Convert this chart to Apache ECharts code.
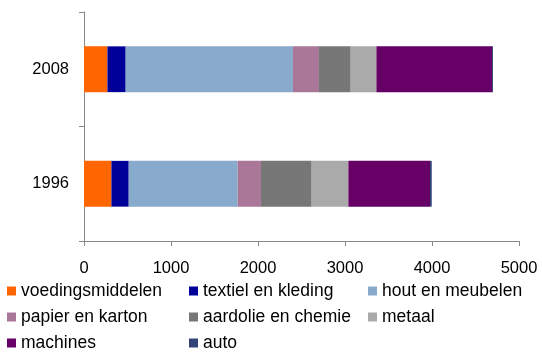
<!DOCTYPE html>
<html>
<head>
<meta charset="utf-8">
<script src="https://cdn.jsdelivr.net/npm/echarts@6/dist/echarts.min.js"></script>
<style>
  html, body { margin: 0; padding: 0; background: #fff; }
  #chart { width: 542px; height: 352px; }
</style>
</head>
<body>
<div id="chart"></div>
<script>
const years = ["1996", "2008"];
const seriesNames = [
  "voedingsmiddelen", "textiel en kleding", "hout en meubelen",
  "papier en karton", "aardolie en chemie", "metaal", "machines", "auto"
];
const voeding = [315, 269];
const textiel = [199, 210];
const hout = [1253, 1923];
const papier = [267, 299];
const aardolie = [583, 365];
const metaal = [422, 295];
const machines = [938, 1329];
const auto = [20, 11];
const xTicks = [0, 1000, 2000, 3000, 4000, 5000];

const values = [voeding, textiel, hout, papier, aardolie, metaal, machines, auto];
const colors = ["#ff6600", "#000099", "#88aacc", "#aa7799", "#777777", "#aaaaaa", "#660066", "#334477"];

const chart = echarts.init(document.getElementById("chart"));
const font = "Liberation Sans, Arial, sans-serif";

// one vertical legend per column, like the original layout
const legendBase = {
  orient: "vertical",
  padding: 0,
  itemWidth: 9,
  itemHeight: 9,
  itemGap: 8,
  icon: "rect",
  height: 80,
  textStyle: { fontFamily: font, fontSize: 17.5, color: "#000" },
  top: 282
};

const options = {
  animation: false,
  grid: { left: 84, right: 23, top: 12, bottom: 111 },
  legend: [
    Object.assign({}, legendBase, { left: 7, data: [seriesNames[0], seriesNames[3], seriesNames[6]] }),
    Object.assign({}, legendBase, { left: 189, data: [seriesNames[1], seriesNames[4], seriesNames[7]] }),
    Object.assign({}, legendBase, { left: 368, data: [seriesNames[2], seriesNames[5]] })
  ],
  xAxis: {
    type: "value",
    min: xTicks[0],
    max: xTicks[xTicks.length - 1],
    interval: 1000,
    axisLine: { show: true, lineStyle: { color: "#888", width: 1 } },
    axisTick: { show: true, length: 5, lineStyle: { color: "#888" } },
    splitLine: { show: false },
    axisLabel: {
      margin: 19, fontFamily: font, fontSize: 16.5, color: "#000",
      formatter: (v) => String(v)
    }
  },
  yAxis: {
    type: "category",
    data: years,
    axisLine: { show: true, lineStyle: { color: "#888", width: 1 } },
    axisTick: { show: true, length: 5, lineStyle: { color: "#888" } },
    axisLabel: { margin: 15, fontFamily: font, fontSize: 16.5, color: "#000" }
  },
  series: seriesNames.map((name, i) => ({
    name: name,
    type: "bar",
    stack: "total",
    barWidth: "40%",
    data: values[i],
    itemStyle: { color: colors[i] }
  }))
};
chart.setOption(options);
</script>
</body>
</html>
